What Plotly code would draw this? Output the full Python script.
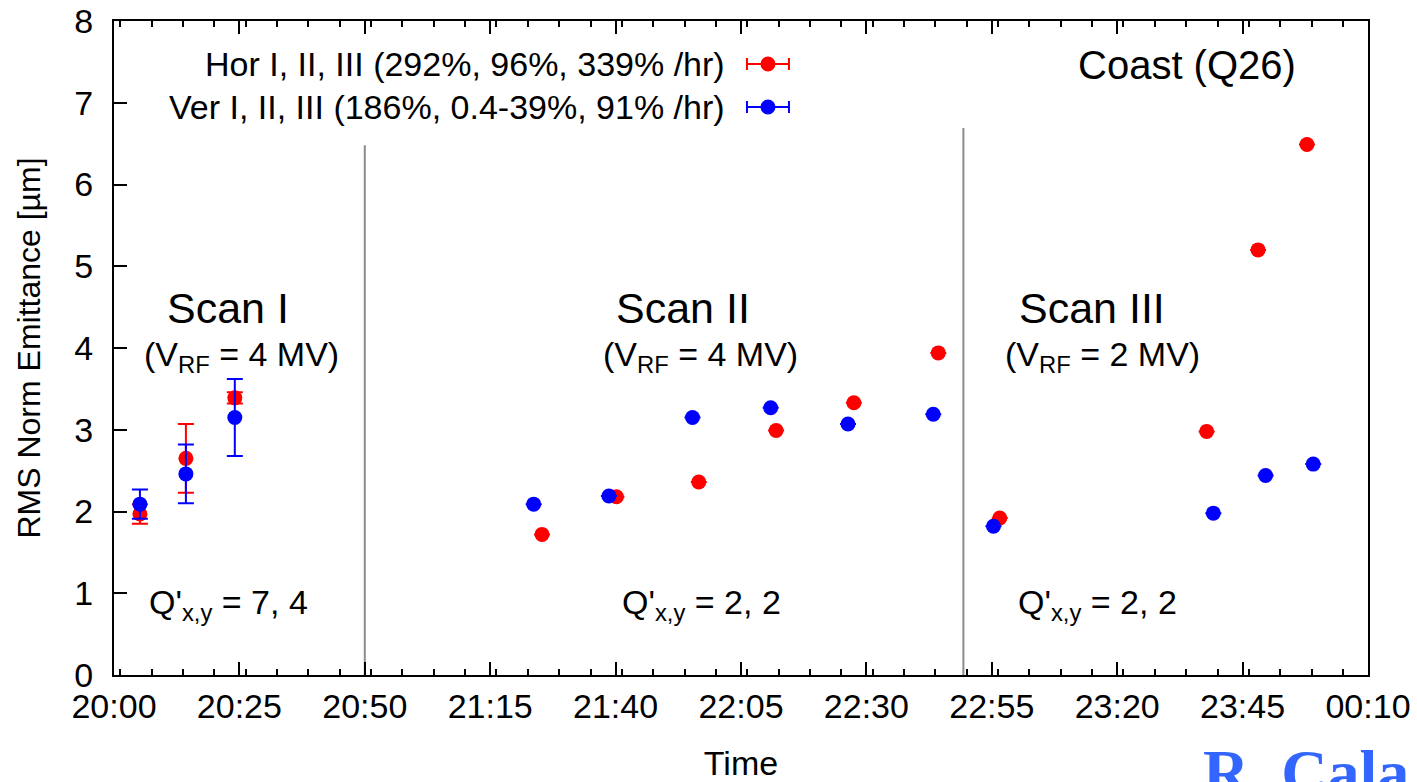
import plotly.graph_objects as go

DAY = "2012-11-30 "
NEXT_DAY = "2012-12-01 "

# Horizontal emittance (red)
hor_time = ["20:05:10", "20:14:20", "20:24:05",
            "21:25:20", "21:40:10", "21:56:35", "22:12:00", "22:27:30", "22:44:20",
            "22:56:35", "23:37:50", "23:48:05", "23:57:50"]
hor_emit = [1.97, 2.65, 3.39,
            1.72, 2.18, 2.36, 2.99, 3.33, 3.94,
            1.92, 2.98, 5.20, 6.49]
hor_err = [0.12, 0.42, 0.07] + [None] * 10

# Vertical emittance (blue)
ver_time = ["20:05:10", "20:14:20", "20:24:05",
            "21:23:40", "21:38:40", "21:55:20", "22:10:55", "22:26:20", "22:43:20",
            "22:55:20", "23:39:10", "23:49:35", "23:59:05"]
ver_emit = [2.09, 2.46, 3.15,
            2.09, 2.19, 3.15, 3.27, 3.07, 3.19,
            1.82, 1.98, 2.44, 2.58]
ver_err = [0.18, 0.36, 0.47] + [None] * 10

# Scan boundaries (time, top of separator line)
sep_time = ["20:50:00", "22:49:20"]
sep_top = [6.48, 6.69]

# Scan labels
scan_names = ["Scan I", "Scan II", "Scan III"]
scan_name_time = ["20:22:40", "21:53:25", "23:14:58"]
vrf_text = ["(V<sub>RF</sub> = 4 MV)", "(V<sub>RF</sub> = 4 MV)", "(V<sub>RF</sub> = 2 MV)"]
vrf_time = ["20:25:20", "21:56:50", "23:17:10"]
chroma_text = ["Q'<sub>x,y</sub> = 7, 4", "Q'<sub>x,y</sub> = 2, 2", "Q'<sub>x,y</sub> = 2, 2"]
chroma_time = ["20:22:55", "21:57:10", "23:16:10"]

legend_labels = ["Hor I, II, III (292%, 96%, 339% /hr)",
                 "Ver I, II, III (186%, 0.4-39%, 91% /hr)"]

RED = "#ff0000"
BLUE = "#0000ff"
FONT = "Liberation Sans, Arial, sans-serif"

def ts(t):
    return DAY + t

fig = go.Figure()

fig.add_trace(go.Scatter(
    x=[ts(t) for t in hor_time], y=hor_emit, mode="markers",
    marker=dict(color=RED, size=15),
    error_y=dict(type="data", array=hor_err, color=RED, thickness=2, width=8),
    showlegend=False))
fig.add_trace(go.Scatter(
    x=[ts(t) for t in ver_time], y=ver_emit, mode="markers",
    marker=dict(color=BLUE, size=15),
    error_y=dict(type="data", array=ver_err, color=BLUE, thickness=2, width=8),
    showlegend=False))

for t, top in zip(sep_time, sep_top):
    fig.add_shape(type="line", xref="x", yref="y", x0=ts(t), x1=ts(t), y0=0, y1=top,
                  line=dict(color="#8c8c8c", width=2), layer="below")

for name, t in zip(scan_names, scan_name_time):
    fig.add_annotation(x=ts(t), y=4.49, xref="x", yref="y", text=name, showarrow=False,
                       font=dict(size=43, color="black", family=FONT))
for txt, t in zip(vrf_text, vrf_time):
    fig.add_annotation(x=ts(t), y=3.89, xref="x", yref="y", text=txt, showarrow=False,
                       font=dict(size=34, color="black", family=FONT))
for txt, t in zip(chroma_text, chroma_time):
    fig.add_annotation(x=ts(t), y=0.86, xref="x", yref="y", text=txt, showarrow=False,
                       font=dict(size=34, color="black", family=FONT))

fig.add_annotation(x=ts("23:33:55"), y=7.46, xref="x", yref="y", text="Coast (Q26)",
                   showarrow=False, font=dict(size=40, color="black", family=FONT))

# Key: text on the left, error-bar symbol on the right
key_y = [0.9343, 0.8685]
for label, color, yk in zip(legend_labels, [RED, BLUE], key_y):
    fig.add_annotation(x=0.4888, y=yk, xref="paper", yref="paper", text=label,
                       showarrow=False, xanchor="right", yanchor="middle",
                       font=dict(size=34, color="black", family=FONT))
    fig.add_shape(type="line", xref="paper", yref="paper", xsizemode="pixel", ysizemode="pixel",
                  xanchor=0.5215, yanchor=yk, x0=-21, x1=21, y0=0, y1=0,
                  line=dict(color=color, width=2))
    for cx in (-21, 21):
        fig.add_shape(type="line", xref="paper", yref="paper", xsizemode="pixel", ysizemode="pixel",
                      xanchor=0.5215, yanchor=yk, x0=cx, x1=cx, y0=-6, y1=6,
                      line=dict(color=color, width=2))
    fig.add_shape(type="circle", xref="paper", yref="paper", xsizemode="pixel", ysizemode="pixel",
                  xanchor=0.5215, yanchor=yk, x0=-7.5, x1=7.5, y0=-7.5, y1=7.5,
                  fillcolor=color, line=dict(color=color, width=0))

fig.add_annotation(x=(1201 - 114) / 1254, y=-0.149, xref="paper", yref="paper",
                   text="<b>R. Cala</b>", showarrow=False, xanchor="left", yanchor="middle",
                   font=dict(size=64, color="#3366ff", family="Liberation Serif, Times New Roman, serif"))

fig.update_xaxes(
    type="date", range=[ts("20:00:00"), NEXT_DAY + "00:10:00"],
    tick0=ts("20:00:00"), dtick=25 * 60 * 1000, tickformat="%H:%M",
    ticks="inside", ticklen=13, tickwidth=2, tickcolor="black",
    minor=dict(dtick=6.25 * 60 * 1000, ticks="inside", ticklen=6, tickwidth=2, tickcolor="black"),
    showline=True, linecolor="black", linewidth=2, mirror="ticks",
    showgrid=False, zeroline=False, automargin=False,
    tickfont=dict(size=34, color="black", family=FONT),
    title=dict(text="Time", font=dict(size=34, color="black", family=FONT), standoff=28))
fig.update_yaxes(
    range=[0, 8], tick0=0, dtick=1,
    ticks="inside", ticklen=13, tickwidth=2, tickcolor="black",
    showline=True, linecolor="black", linewidth=2, mirror=True,
    showgrid=False, zeroline=False, automargin=False, ticklabelstandoff=12,
    tickfont=dict(size=34, color="black", family=FONT),
    title=dict(text="RMS Norm Emittance [µm]", font=dict(size=32, color="black", family=FONT),
               standoff=24))

fig.update_layout(
    width=1417, height=782,
    margin=dict(l=114, r=49, t=21, b=107),
    plot_bgcolor="white", paper_bgcolor="white",
    showlegend=False)

fig.write_html("out.html")
